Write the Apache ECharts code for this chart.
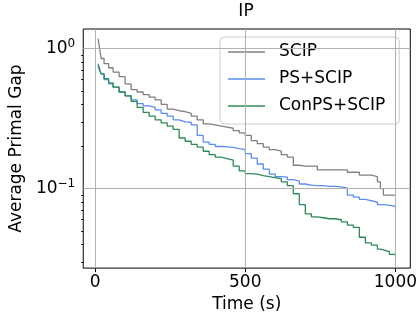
<!DOCTYPE html>
<html>
<head>
<meta charset="utf-8">
<script src="https://cdn.jsdelivr.net/npm/echarts@6/dist/echarts.min.js"></script>
<style>
  html, body { margin: 0; padding: 0; background: #fff; }
  #main { width: 420px; height: 318px; }
</style>
</head>
<body>
<div id="main"></div>
<script>
var myChart = echarts.init(document.getElementById("main"));

// time stamps (s) shared by the three curves
const times = [10, 15, 20, 30, 45, 60, 80, 100, 120, 140, 160, 180, 200, 220, 240, 260, 280, 300,
  320, 340, 360, 380, 400, 420, 440, 460, 480, 500, 520, 540, 560, 580, 600, 620, 640, 660,
  680, 700, 720, 740, 760, 780, 800, 820, 840, 860, 880, 900, 920, 940, 950, 960, 980, 1000];
const scip = [1.18, 1.0, 0.85, 0.78, 0.73, 0.68, 0.63, 0.56, 0.51, 0.49, 0.47, 0.45, 0.43, 0.4,
  0.37, 0.36, 0.355, 0.345, 0.33, 0.31, 0.29, 0.285, 0.28, 0.275, 0.27, 0.26, 0.25, 0.24,
  0.22, 0.21, 0.198, 0.19, 0.185, 0.175, 0.168, 0.147, 0.145, 0.145, 0.145, 0.136, 0.136,
  0.136, 0.136, 0.136, 0.131, 0.131, 0.125, 0.125, 0.122, 0.112, 0.1, 0.09, 0.09, 0.09];
const psScip = [0.78, 0.72, 0.66, 0.6, 0.56, 0.53, 0.49, 0.46, 0.43, 0.405, 0.39, 0.38, 0.365,
  0.345, 0.33, 0.31, 0.3, 0.298, 0.285, 0.24, 0.215, 0.207, 0.2, 0.199, 0.197, 0.193, 0.19,
  0.178, 0.165, 0.15, 0.138, 0.127, 0.122, 0.121, 0.116, 0.113, 0.108, 0.106, 0.105, 0.105,
  0.104, 0.104, 0.103, 0.101, 0.09, 0.087, 0.084, 0.082, 0.08, 0.077, 0.077, 0.076, 0.075, 0.071];
const conpsScip = [0.76, 0.7, 0.66, 0.61, 0.57, 0.53, 0.49, 0.46, 0.42, 0.38, 0.35, 0.33, 0.31,
  0.295, 0.28, 0.265, 0.23, 0.218, 0.207, 0.198, 0.185, 0.175, 0.168, 0.164, 0.16, 0.145,
  0.134, 0.128, 0.127, 0.124, 0.122, 0.12, 0.118, 0.112, 0.105, 0.092, 0.077, 0.066, 0.063,
  0.062, 0.061, 0.061, 0.06, 0.058, 0.055, 0.053, 0.045, 0.041, 0.0395, 0.037, 0.0365,
  0.0355, 0.034, 0.0325];

const seriesNames = ["SCIP", "PS+SCIP", "ConPS+SCIP"];
const xTicks = [0, 500, 1000];
const yTicks = [0.1, 1];
const yMinorTicks = [0.03, 0.04, 0.05, 0.06, 0.07, 0.08, 0.09, 0.2, 0.3, 0.4, 0.5, 0.6, 0.7, 0.8, 0.9];

const font = "DejaVu Sans";
const colors = ["#808080", "#5b8def", "#2e8b57"];
const gridColor = "#b0b0b0";

function pairs(vals) {
  return times.map(function (t, i) { return [t, vals[i]]; });
}

function lineSeries(name, vals, color) {
  return {
    name: name,
    type: "line",
    step: "end",
    symbol: "none",
    z: 3,
    lineStyle: { color: color, width: 1.3 },
    itemStyle: { color: color },
    data: pairs(vals),
  };
}

const gridLines = xTicks.map(function (v) { return { xAxis: v }; })
  .concat(yTicks.map(function (v) { return { yAxis: v }; }));

option = {
  animation: false,
  textStyle: { fontFamily: font },
  title: {
    text: "IP",
    left: 246,
    textAlign: "center",
    top: 3,
    padding: 0,
    textStyle: { fontFamily: font, fontSize: 17, fontWeight: "normal", color: "#000" },
  },
  grid: {
    left: 82, right: 9, top: 29, bottom: 45,
    show: true, borderColor: "#000", borderWidth: 1,
  },
  legend: {
    orient: "vertical",
    left: 220,
    top: 37,
    padding: [6, 14, 9, 8],
    itemGap: 9,
    itemWidth: 37,
    itemHeight: 1.4,
    icon: "rect",
    backgroundColor: "rgba(255,255,255,0.8)",
    borderColor: "#cccccc",
    borderWidth: 1,
    borderRadius: 4,
    data: seriesNames,
    textStyle: { fontFamily: font, fontSize: 17, color: "#000", lineHeight: 18, padding: [0, 0, 0, 9] },
  },
  xAxis: {
    type: "value",
    min: -39.5,
    max: 1049.5,
    name: "Time (s)",
    nameLocation: "middle",
    nameGap: 24,
    nameTextStyle: { fontFamily: font, fontSize: 17, color: "#000" },
    axisLine: { show: false },
    axisTick: { show: true, customValues: xTicks, length: 4, lineStyle: { color: "#000" } },
    axisLabel: {
      customValues: xTicks, margin: 6, fontFamily: font, fontSize: 17, color: "#000",
      formatter: function (v) { return String(v); },
    },
    splitLine: { show: false },
  },
  yAxis: [
    {
      type: "log",
      min: 0.0271,
      max: 1.38,
      name: "Average Primal Gap",
      nameLocation: "middle",
      nameGap: 53,
      nameTextStyle: { fontFamily: font, fontSize: 17, color: "#000" },
      axisLine: { show: false },
      axisTick: { show: true, customValues: yTicks, length: 4, lineStyle: { color: "#000" } },
      axisLabel: {
        customValues: yTicks,
        margin: 8,
        fontFamily: font,
        fontSize: 17,
        color: "#000",
        formatter: function (v) {
          const e = Math.round(Math.log10(v));
          return "10{sup|" + (e < 0 ? "\u2212" + (-e) : e) + "}";
        },
        rich: {
          sup: { fontFamily: font, fontSize: 12, color: "#000", padding: [0, 0, 9, 0] },
        },
      },
      splitLine: { show: false },
    },
    {
      type: "log",
      position: "left",
      offset: 0,
      min: 0.0271,
      max: 1.38,
      axisLine: { show: false },
      axisTick: { show: true, customValues: yMinorTicks, length: 2, lineStyle: { color: "#000" } },
      axisLabel: { show: false },
      splitLine: { show: false },
    },
  ],
  series: [
    {
      type: "line",
      data: [],
      z: 1,
      silent: true,
      markLine: {
        silent: true,
        symbol: "none",
        animation: false,
        label: { show: false },
        lineStyle: { color: gridColor, type: "solid", width: 1 },
        data: gridLines,
      },
    },
    lineSeries(seriesNames[0], scip, colors[0]),
    lineSeries(seriesNames[1], psScip, colors[1]),
    lineSeries(seriesNames[2], conpsScip, colors[2]),
  ],
};

myChart.setOption(option);
</script>
</body>
</html>
